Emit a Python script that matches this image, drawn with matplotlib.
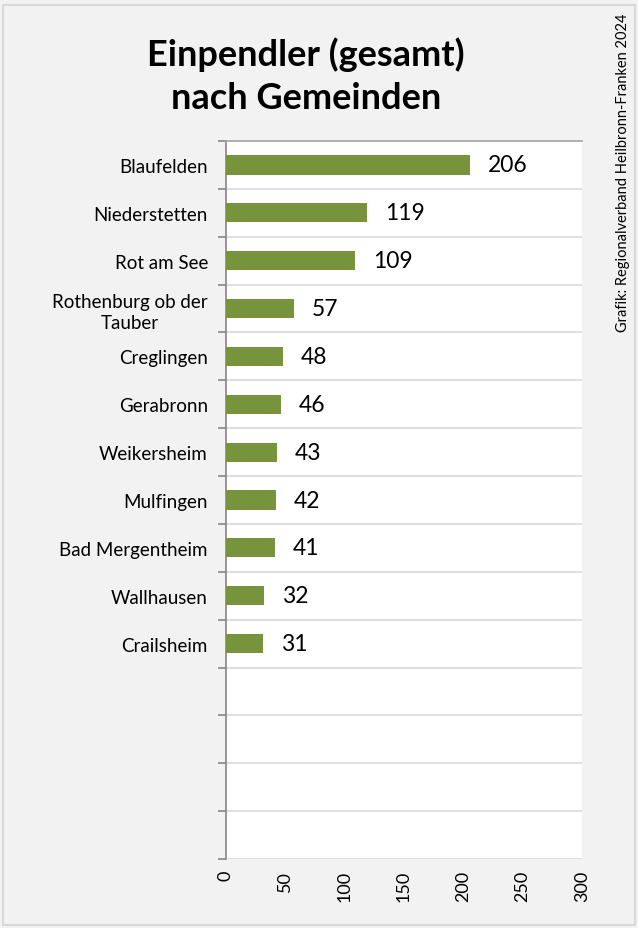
import matplotlib.pyplot as plt
from matplotlib.patches import Rectangle

plt.rcParams['font.family'] = ['Lato', 'DejaVu Sans']

# Gemeinden und Einpendler (von oben nach unten)
gemeinden = ['Blaufelden', 'Niederstetten', 'Rot am See', 'Rothenburg ob der\nTauber',
             'Creglingen', 'Gerabronn', 'Weikersheim', 'Mulfingen', 'Bad Mergentheim',
             'Wallhausen', 'Crailsheim']
einpendler = [206, 119, 109, 57, 48, 46, 43, 42, 41, 32, 31]
n_slots = 15  # 4 leere Zeilen unten
xticks = [0, 50, 100, 150, 200, 250, 300]

fig = plt.figure(figsize=(6.38, 9.29), dpi=100, facecolor='#F2F2F2')
fig.patches.append(Rectangle((0.004, 0.003), 0.992, 0.991, transform=fig.transFigure,
                             fill=False, edgecolor='#D9D9D9', lw=1.5))
ax = fig.add_axes([0.3542, 0.0743, 0.558, 0.7728])
ax.set_facecolor('white')

pos = list(range(len(gemeinden)))
ax.barh(pos, einpendler, height=0.4, color='#77933C', zorder=3)
for p, v in zip(pos, einpendler):
    ax.text(v + 15, p, str(v), va='center', ha='left', fontsize=16.5, color='black')

ax.set_xlim(0, 300)
ax.set_ylim(n_slots - 0.5, -0.5)
ax.set_xticks(xticks)
ax.set_xticklabels([str(t) for t in xticks], rotation=90, fontsize=13)
ax.tick_params(axis='x', length=0, pad=8)

ax.set_yticks([i - 0.5 for i in range(n_slots + 1)], minor=False)
ax.set_yticklabels([])
ax.tick_params(axis='y', which='major', length=6, color='#868686', width=1.2, direction='out')
ax.set_yticks(pos, minor=True)
ax.set_yticklabels(gemeinden, minor=True, fontsize=13.5, multialignment='center',
                   linespacing=1.3)
ax.tick_params(axis='y', which='minor', length=0, pad=13)
ax.grid(axis='y', which='major', color='#D9D9D9', lw=1.2, zorder=0)

for s in ['right', 'bottom']:
    ax.spines[s].set_visible(False)
ax.spines['left'].set_color('#868686')
ax.spines['left'].set_linewidth(1.2)
ax.spines['top'].set_color('#A6A6A6')
ax.spines['top'].set_linewidth(1.2)

fig.text(0.48, 0.918, 'Einpendler (gesamt)\nnach Gemeinden', ha='center', va='center',
         fontsize=26, fontweight='bold', linespacing=1.35)
fig.text(0.977, 0.986, 'Grafik: Regionalverband Heilbronn-Franken 2024', rotation=90,
         ha='center', va='top', fontsize=10.5)

fig.savefig('out.png', dpi=100, facecolor=fig.get_facecolor())
